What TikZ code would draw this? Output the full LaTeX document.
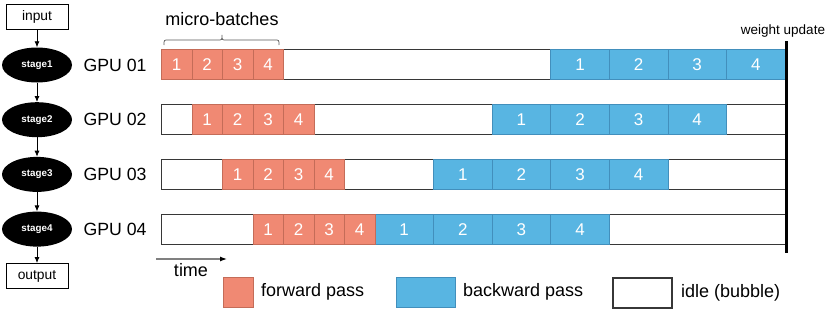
\documentclass[tikz,border=0pt]{standalone}
\usepackage{fontspec}
\setmainfont{Liberation Sans}
\usetikzlibrary{arrows.meta,shapes.geometric}
\definecolor{fwd}{RGB}{240,137,115}
\definecolor{fwdb}{RGB}{196,108,88}
\definecolor{bwd}{RGB}{88,181,226}
\definecolor{bwdb}{RGB}{66,143,188}
\definecolor{barb}{RGB}{55,55,55}
\newcommand{\myfs}[1]{\fontsize{#1}{#1}\selectfont}
\begin{document}
\begin{tikzpicture}[x=1pt,y=-1pt,
  cellf/.style={draw=fwdb, fill=fwd, line width=0.8pt, minimum width=30.5pt, minimum height=30pt, inner sep=0pt, anchor=north west, text=white, font=\myfs{17}},
  cellb/.style={draw=bwdb, fill=bwd, line width=0.8pt, minimum width=58.6pt, minimum height=30pt, inner sep=0pt, anchor=north west, text=white, font=\myfs{17}},
  barbox/.style={draw=barb, fill=white, line width=1.2pt, minimum width=623.9pt, minimum height=30pt, inner sep=0pt, anchor=north west},
  stagebox/.style={ellipse, fill=black, minimum width=70pt, minimum height=35pt, inner sep=0pt, text=white, font=\myfs{9.8}\bfseries},
  iobox/.style={draw=black, line width=0.9pt, minimum width=62pt, minimum height=25pt, inner sep=0pt, font=\myfs{13.8}},
  gpulabel/.style={font=\myfs{17.7}, inner sep=0pt},
  lab/.style={font=\myfs{18}, inner sep=0pt},
  flow/.style={draw=black, line width=0.8pt, -{Latex[length=6pt,width=5pt]}}
]
\useasboundingbox (0,0) rectangle (830,314);

% left pipeline
\node[iobox] (in) at (37,17) {input};
\foreach \i/\n in {0/1,1/2,2/3,3/4}{
  \node[stagebox] (s\n) at (37,{65+54.7*\i}) {stage\n};
  \node[gpulabel] (g\n) at (115,{65+54.7*\i}) {GPU 0\n};
}
\node[iobox] (out) at (37,276) {output};
\draw[flow] (in) -- (s1);
\draw[flow] (s1) -- (s2);
\draw[flow] (s2) -- (s3);
\draw[flow] (s3) -- (s4);
\draw[flow] (s4) -- (out);

% bars
\foreach \i in {0,1,2,3}{
  \node[barbox] (bar\i) at (161,{49+55*\i}) {};
  \foreach \j in {1,2,3,4}{
    \node[cellf] (f\i\j) at ({161+(\i+\j-1)*30.5},{49+55*\i}) {\j};
    \node[cellb] (b\i\j) at ({374.5+(3-\i+\j-1)*58.6},{49+55*\i}) {\j};
  }
}

% micro-batches brace
\node[lab] (mb) at (222,19) {micro-batches};
\draw[draw=gray!70!black, line width=0.7pt] (164,45) .. controls (164,40) .. (168,40) -- (218,40) .. controls (222,40) .. (222,35) .. controls (222,40) .. (226,40) -- (275,40) .. controls (279,40) .. (279,45);

% weight update
\coordinate (wtop) at (786,41);
\coordinate (wbot) at (786,253);
\draw[line width=3pt] (wtop) -- (wbot);
\node[font=\myfs{13.5}, inner sep=0pt] (wu) at (783,31) {weight update};

% time arrow
\coordinate (t1) at (156,259);
\coordinate (t2) at (227,259);
\draw[draw=gray, line width=1.2pt, -{Latex[length=7pt,width=5pt,color=black]}] (t1) -- (t2);
\node[lab] (time) at (191,270) {time};

% legend
\node[draw=fwdb, fill=fwd, line width=0.8pt, minimum width=30pt, minimum height=30pt, inner sep=0pt] (lf) at (238,292) {};
\node[lab, anchor=west] (lft) at (261,292) {forward pass};
\node[draw=bwdb, fill=bwd, line width=0.8pt, minimum width=59pt, minimum height=30pt, inner sep=0pt] (lb) at (425.5,292) {};
\node[lab, anchor=west] (lbt) at (463,292) {backward pass};
\node[draw=barb, fill=white, line width=1.2pt, minimum width=59pt, minimum height=30pt, inner sep=0pt] (li) at (642.5,293) {};
\node[lab, anchor=west] (lit) at (681,293) {idle (bubble)};
\end{tikzpicture}
\end{document}
